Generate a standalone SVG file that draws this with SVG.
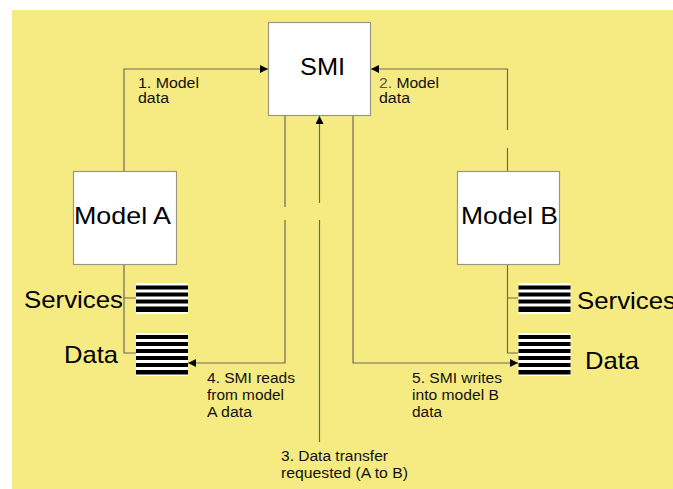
<svg xmlns="http://www.w3.org/2000/svg" width="673" height="489" viewBox="0 0 673 489">
  <defs>
    <marker id="arrow" viewBox="0 0 8 8" refX="8" refY="4" markerWidth="8" markerHeight="8" markerUnits="userSpaceOnUse" orient="auto">
      <path d="M0,0 L8,4 L0,8 Z" fill="#000"/>
    </marker>
    <!-- striped store symbol: white slab with black bars -->
    <g id="services-icon">
      <rect x="0" y="0" width="52" height="31" fill="#fff"/>
      <rect x="0" y="2.5" width="52" height="4" fill="#000"/>
      <rect x="0" y="9.5" width="52" height="4" fill="#000"/>
      <rect x="0" y="16.5" width="52" height="4" fill="#000"/>
      <rect x="0" y="23.5" width="52" height="5.5" fill="#000"/>
    </g>
    <g id="data-icon">
      <rect x="0" y="0" width="52" height="43" fill="#fff"/>
      <rect x="0" y="2" width="52" height="4" fill="#000"/>
      <rect x="0" y="9" width="52" height="4" fill="#000"/>
      <rect x="0" y="16" width="52" height="4" fill="#000"/>
      <rect x="0" y="23" width="52" height="4" fill="#000"/>
      <rect x="0" y="30" width="52" height="4" fill="#000"/>
      <rect x="0" y="37" width="52" height="4.5" fill="#000"/>
    </g>
  </defs>
  <style>
    .box { fill: #fff; stroke: #9a9680; stroke-width: 1.2; }
    .big { font-family: "Liberation Sans", Arial, sans-serif; font-size: 24px; fill: #000; }
    .lbl { font-family: "Liberation Sans", Arial, sans-serif; font-size: 14px; fill: #111; }
    .wire { fill: none; stroke: #6e6a55; stroke-width: 1.2; }
  </style>

  <rect x="12" y="10" width="661" height="479" fill="#f5eb82"/>

  <g id="connectors">
    <path class="wire" d="M124,172 V69 H268" marker-end="url(#arrow)"/>
    <path class="wire" d="M507.5,172 V148 M507.5,130 V69 H371" marker-end="url(#arrow)"/>
    <path class="wire" d="M319.5,442 V220 M319.5,203 V116" marker-end="url(#arrow)"/>
    <path class="wire" d="M285,116 V207 M285,220 V363 H188" marker-end="url(#arrow)"/>
    <path class="wire" d="M353,116 V363 H518" marker-end="url(#arrow)"/>
    <path class="wire" d="M124,264 V353 H136 M124,298 H136"/>
    <path class="wire" d="M507.5,264 V353 H518 M507.5,298 H518"/>
  </g>

  <g id="smi">
    <rect class="box" x="268.5" y="22.5" width="102" height="93"/>
    <text class="big" x="300" y="75" textLength="45" lengthAdjust="spacingAndGlyphs">SMI</text>
  </g>

  <g id="model-a">
    <rect class="box" x="73.5" y="171.5" width="103" height="93"/>
    <text class="big" x="74" y="224" textLength="97" lengthAdjust="spacingAndGlyphs">Model A</text>
  </g>

  <g id="model-b">
    <rect class="box" x="457.5" y="171.5" width="102" height="93"/>
    <text class="big" x="461" y="224" textLength="97" lengthAdjust="spacingAndGlyphs">Model B</text>
  </g>

  <g id="services-a">
    <use href="#services-icon" x="136" y="283"/>
    <text class="big" x="24" y="308" textLength="99" lengthAdjust="spacingAndGlyphs">Services</text>
  </g>
  <g id="data-a">
    <use href="#data-icon" x="136" y="333"/>
    <text class="big" x="64" y="363" textLength="54" lengthAdjust="spacingAndGlyphs">Data</text>
  </g>

  <g id="services-b">
    <use href="#services-icon" x="518.5" y="283"/>
    <text class="big" x="577" y="309" textLength="99" lengthAdjust="spacingAndGlyphs">Services</text>
  </g>
  <g id="data-b">
    <use href="#data-icon" x="518.5" y="333"/>
    <text class="big" x="585" y="369" textLength="54" lengthAdjust="spacingAndGlyphs">Data</text>
  </g>

  <g id="labels">
    <text class="lbl" x="138" y="88" textLength="61" lengthAdjust="spacingAndGlyphs">1. Model</text>
    <text class="lbl" x="138" y="103" textLength="31" lengthAdjust="spacingAndGlyphs">data</text>
    <text class="lbl" x="379" y="88" textLength="60" lengthAdjust="spacingAndGlyphs"><tspan fill="#555">2.</tspan> Model</text>
    <text class="lbl" x="379" y="103" textLength="31" lengthAdjust="spacingAndGlyphs">data</text>
    <text class="lbl" x="207" y="383" textLength="88" lengthAdjust="spacingAndGlyphs">4. SMI reads</text>
    <text class="lbl" x="207" y="400" textLength="77" lengthAdjust="spacingAndGlyphs">from model</text>
    <text class="lbl" x="207" y="417" textLength="45" lengthAdjust="spacingAndGlyphs">A data</text>
    <text class="lbl" x="412" y="383" textLength="90" lengthAdjust="spacingAndGlyphs">5. SMI writes</text>
    <text class="lbl" x="412" y="400" textLength="87" lengthAdjust="spacingAndGlyphs">into model B</text>
    <text class="lbl" x="412" y="417" textLength="30" lengthAdjust="spacingAndGlyphs">data</text>
    <text class="lbl" x="281" y="461" textLength="107" lengthAdjust="spacingAndGlyphs">3. Data transfer</text>
    <text class="lbl" x="281" y="478" textLength="127" lengthAdjust="spacingAndGlyphs">requested (A to B)</text>
  </g>
</svg>
